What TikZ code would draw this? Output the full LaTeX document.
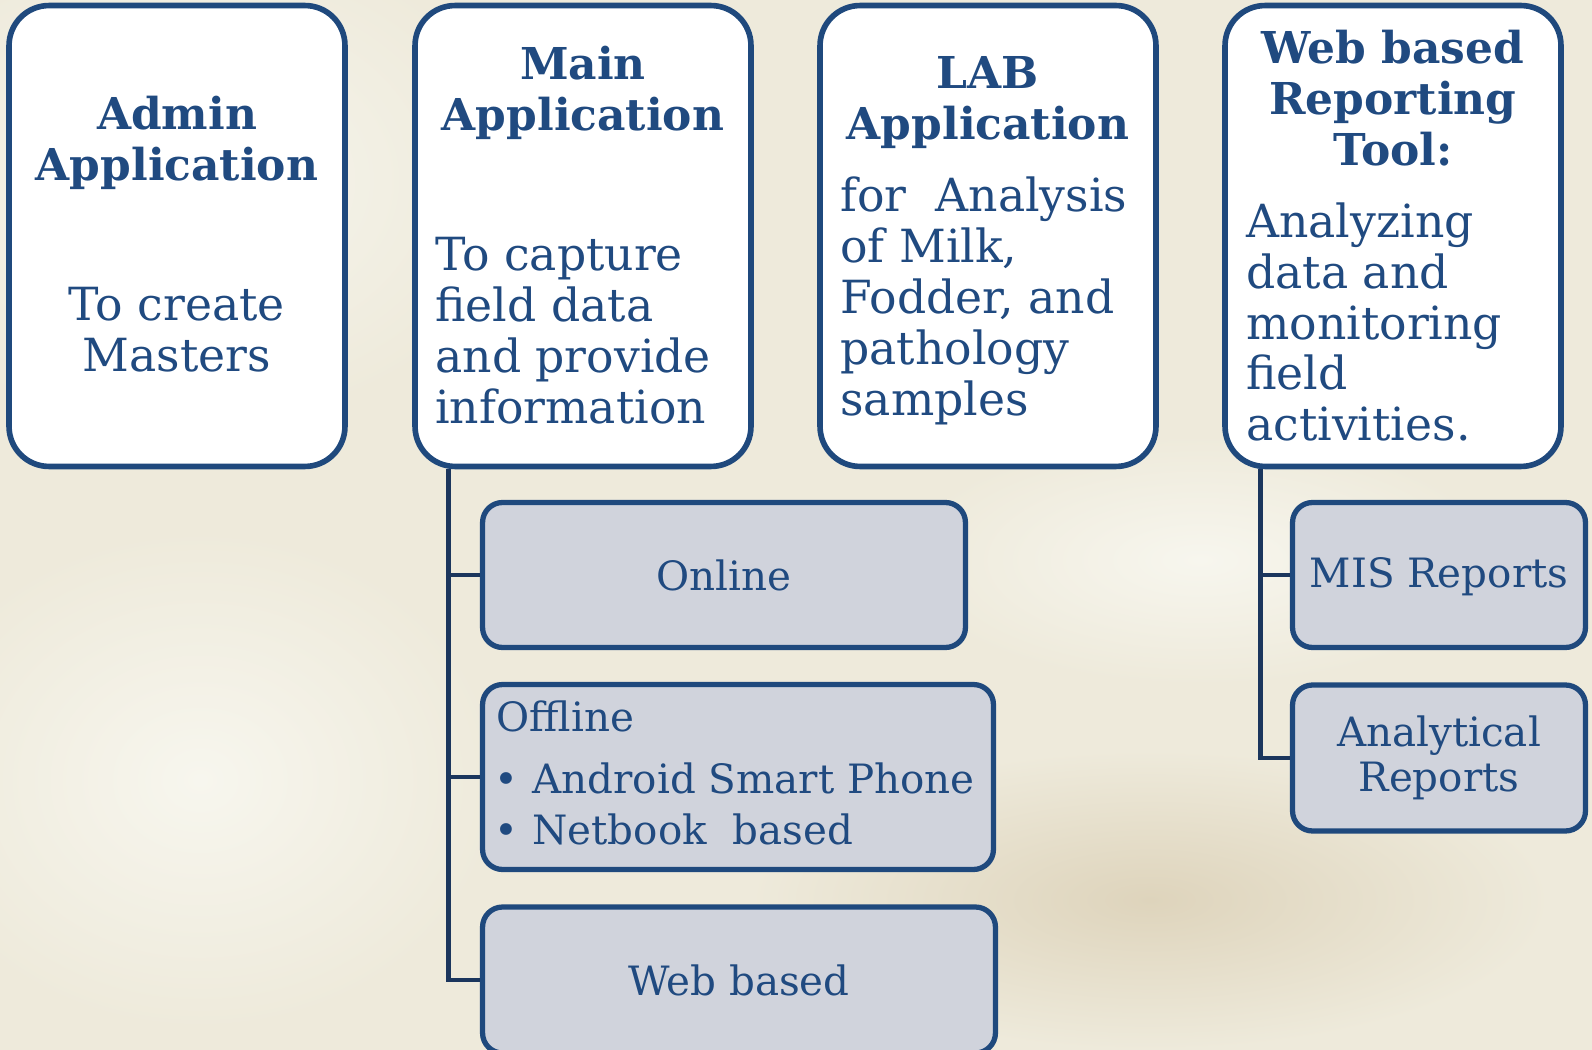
\documentclass[tikz,border=0pt]{standalone}
\usepackage{fontspec}
\setmainfont{DejaVu Serif}
\usepackage{tikz}
\usetikzlibrary{positioning}

\definecolor{edgeblue}{RGB}{31,73,125}
\definecolor{textblue}{RGB}{32,74,128}
\definecolor{linenavy}{RGB}{27,54,93}
\definecolor{subfill}{RGB}{208,211,220}
\definecolor{milk}{RGB}{238,234,219}
\definecolor{cream}{RGB}{247,246,238}
\definecolor{beige}{RGB}{222,212,188}

\newcommand\bodyfont{\fontsize{23}{29}\selectfont}
\newcommand\bigbodyfont{\fontsize{26}{29}\selectfont}
\newcommand\titlefont{\fontsize{25}{29}\selectfont\bfseries}

\begin{document}
\begin{tikzpicture}[
    x=0.02cm, y=-0.02cm,
    appbox/.style={rectangle, draw=edgeblue, line width=3.2pt, fill=white, rounded corners=0.8cm, minimum width=6.72cm, minimum height=9.22cm},
    subbox/.style={rectangle, draw=edgeblue, line width=3pt, fill=subfill, rounded corners=0.4cm, text=textblue, font=\bodyfont, align=center},
    title/.style={text=textblue, font=\titlefont, align=center, inner sep=0pt},
    body/.style={text=textblue, font=\bigbodyfont, inner sep=0pt},
    link/.style={draw=linenavy, line width=2.8pt}
]

% Background
\useasboundingbox (0,0) rectangle (1592,1050);
\fill[milk] (0,0) rectangle (1592,1050);
\shade[inner color=cream, outer color=milk] (180,180) ellipse (7cm and 5cm);
\shade[inner color=cream, outer color=milk] (200,780) ellipse (6cm and 5cm);
\shade[inner color=beige, outer color=milk] (1150,900) ellipse (8cm and 3cm);
\shade[inner color=cream, outer color=milk] (1200,560) ellipse (6cm and 2.5cm);

% Application boxes
\node[appbox] (admin) at (177,236) {};
\node[appbox] (mainapp) at (583,236) {};
\node[appbox] (lab) at (988,236) {};
\node[appbox] (webtool) at (1393,236) {};

% Box texts
\node[title] (adminT) at (177,143) {Admin\\Application};
\node[body, align=center] (adminB) at (177,330) {To create\\Masters};
\node[title] (mainT) at (583,93) {Main\\Application};
\node[body, align=left, anchor=west] (mainB) at (435,331) {To capture\\field data\\and provide\\information};
\node[title] (labT) at (988,103) {LAB\\Application};
\node[body, align=left, anchor=west] (labB) at (840,301) {for\ \ Analysis\\of Milk,\\Fodder, and\\pathology\\samples};
\node[title] (webT) at (1393,98) {Web based\\Reporting\\Tool:};
\node[body, align=left, anchor=west] (webB) at (1246,322) {Analyzing\\data and\\monitoring\\field\\activities.};

% Main application modes
\node[subbox, minimum width=9.66cm, minimum height=2.9cm] (online) at (724,575) {Online};
\node[subbox, minimum width=10.22cm, minimum height=3.7cm] (offline) at (738,777) {};
\node[text=textblue, font=\bodyfont, inner sep=0pt, align=left, anchor=west] (offlineT) at (496,773) {Offline\\[6pt]\hspace{-1pt}\textbullet\hspace{8pt}Android Smart Phone\\\hspace{-1pt}\textbullet\hspace{8pt}Netbook\ \ based};
\node[subbox, minimum width=10.26cm, minimum height=2.92cm] (webbased) at (739,980) {Web based};

% Reports
\node[subbox, minimum width=5.86cm, minimum height=2.9cm, text depth=0.1cm] (mis) at (1439,575) {MIS Reports};
\node[subbox, minimum width=5.86cm, minimum height=2.92cm, font=\fontsize{23}{26}\selectfont] (analytical) at (1439,758) {Analytical\\Reports};

% Connectors
\draw[link] ([xshift=0.72cm]mainapp.south west) |- (online.west);
\draw[link] ([xshift=0.72cm]mainapp.south west) |- (offline.west);
\draw[link] ([xshift=0.72cm]mainapp.south west) |- (webbased.west);
\draw[link] ([xshift=0.76cm]webtool.south west) |- (mis.west);
\draw[link] ([xshift=0.76cm]webtool.south west) |- (analytical.west);

\end{tikzpicture}
\end{document}
